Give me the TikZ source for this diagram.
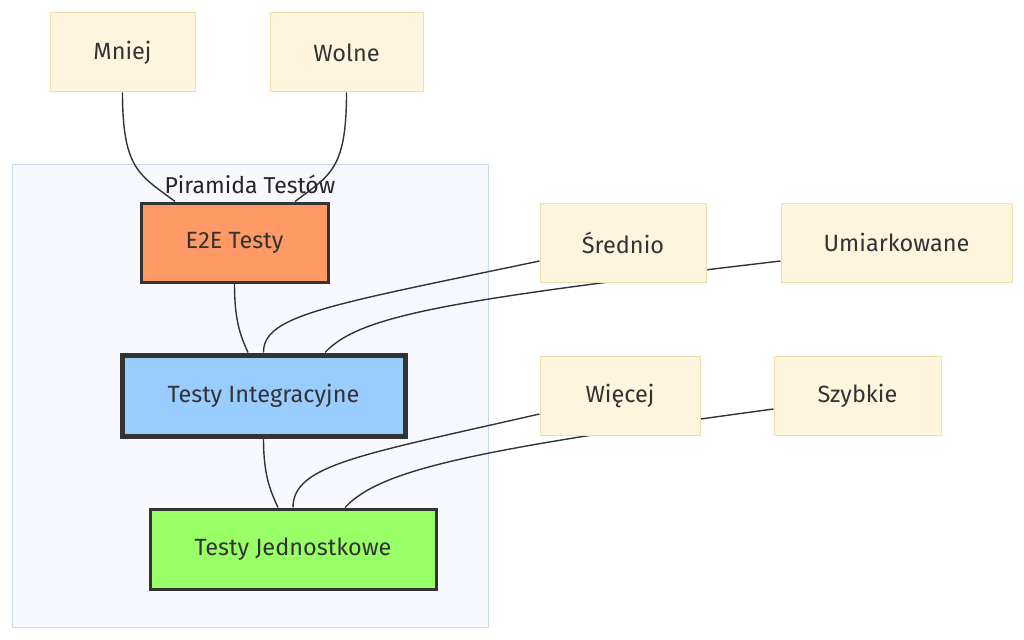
\documentclass[tikz,border=0pt]{standalone}
\usepackage{fontspec}
\setmainfont{Fira Sans}
\usepackage{tikz}
\usetikzlibrary{backgrounds}

\definecolor{paleFill}{HTML}{FFF4DD}
\definecolor{paleDraw}{HTML}{F0DEB2}
\definecolor{groupFill}{HTML}{F8F9FE}
\definecolor{groupDraw}{HTML}{CCD8F0}
\definecolor{inkGray}{HTML}{333333}
\definecolor{e2eFill}{HTML}{FF9966}
\definecolor{integFill}{HTML}{99CCFF}
\definecolor{unitFill}{HTML}{99FF66}

\begin{document}
\begin{tikzpicture}[x = 1pt, y = -1pt,
		every node/.style = {font = \fontsize{23.5}{28}\selectfont, text = inkGray, inner sep = 0pt},
		trait/.style = {rectangle, fill = paleFill, draw = paleDraw, line width = 1pt, minimum height = 79pt},
		level/.style = {rectangle, draw = inkGray, minimum height = 79pt},
		link/.style = {draw = inkGray, line width = 1.4pt}]
		\useasboundingbox (0,0) rectangle (1024,639);
		
		% group box
		\begin{scope}[on background layer]
			\draw [fill = groupFill, draw = groupDraw, line width = 1pt] (12,165) rectangle (488,627);
		\end{scope}
		\node [font = \fontsize{23}{28}\selectfont, text = black!85] (grouplabel) at (250,184) {Piramida Testów};
		
		% pyramid levels
		\node [level, fill = e2eFill, line width = 3pt, minimum width = 187pt] (e2e) at (234.5,242.5) {E2E Testy};
		\node [level, fill = integFill, line width = 5pt, minimum width = 283pt, minimum height = 81pt] (integ) at (263.5,395.5) {Testy Integracyjne};
		\node [level, fill = unitFill, line width = 3pt, minimum width = 286pt, minimum height = 80pt] (unit) at (293,549) {Testy Jednostkowe};
		
		% traits
		\node [trait, minimum width = 145pt] (mniej) at (122.5,52.5) {Mniej};
		\node [trait, minimum width = 153pt] (wolne) at (346.5,52.5) {Wolne};
		\node [trait, minimum width = 166pt] (srednio) at (623,242.5) {Średnio};
		\node [trait, minimum width = 231pt] (umiark) at (896.5,242.5) {Umiarkowane};
		\node [trait, minimum width = 160pt] (wiecej) at (620,395.5) {Więcej};
		\node [trait, minimum width = 167pt] (szybkie) at (857.5,395.5) {Szybkie};
		
		% connectors, kept under the boxes
		\begin{scope}[on background layer]
		\begin{scope}[link]
			\draw (mniej.south) .. controls (122.5,170) and (140,175) .. ([xshift=-59.5pt]e2e.north);
			\draw (wolne.south) .. controls (346.5,170) and (330,175) .. ([xshift=60.5pt]e2e.north);
			\draw (e2e.south) .. controls (234.5,320) and (240,335) .. ([xshift=-15.5pt]integ.north);
			\draw ([yshift=-18.5pt]srednio.west) .. controls (330,305) and (263,315) .. (integ.north);
			\draw ([yshift=-18.5pt]umiark.west) .. controls (450,300) and (360,315) .. ([xshift=61.5pt]integ.north);
			\draw (integ.south) .. controls (263.5,475) and (270,490) .. ([xshift=-15pt]unit.north);
			\draw ([yshift=-18.5pt]wiecej.west) .. controls (360,455) and (293,465) .. (unit.north);
			\draw ([yshift=-13.5pt]szybkie.west) .. controls (470,450) and (380,470) .. ([xshift=52pt]unit.north);
		\end{scope}
		\end{scope}
	\end{tikzpicture}
\end{document}
